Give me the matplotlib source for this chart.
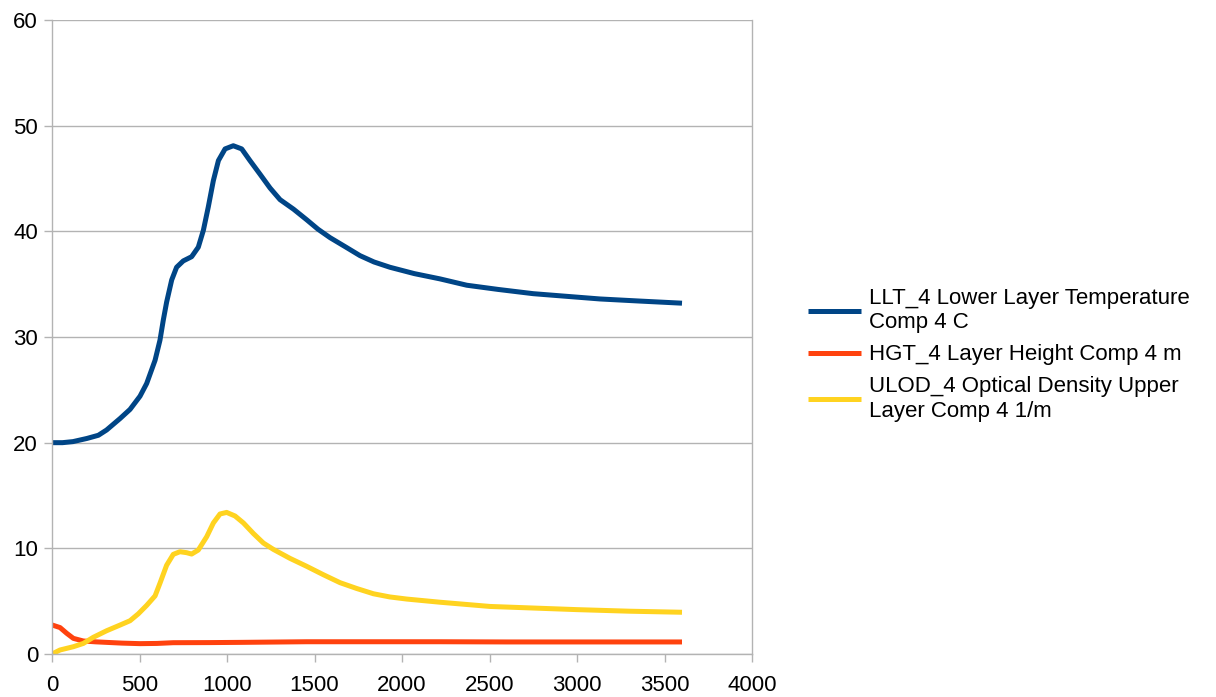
import matplotlib
matplotlib.use("Agg")
import matplotlib.pyplot as plt

llt_time = [0, 60, 120, 200, 265, 312, 390, 446, 503, 541, 589, 617, 636, 655, 684, 712,
            750, 798, 836, 865, 893, 922, 951, 989, 1036, 1084, 1131, 1189, 1246, 1303,
            1380, 1455, 1520, 1589, 1680, 1760, 1840, 1931, 2070, 2217, 2370, 2550, 2750,
            2940, 3131, 3360, 3600]
llt_4 = [20.0, 20.0, 20.1, 20.4, 20.7, 21.2, 22.3, 23.15, 24.4, 25.6, 27.8, 29.7, 31.6,
         33.3, 35.4, 36.6, 37.2, 37.6, 38.5, 40.1, 42.3, 44.8, 46.7, 47.8, 48.1, 47.8,
         46.7, 45.4, 44.1, 43.0, 42.1, 41.1, 40.2, 39.4, 38.5, 37.7, 37.1, 36.6, 36.0,
         35.5, 34.9, 34.5, 34.1, 33.85, 33.6, 33.4, 33.2]

hgt_time = [0, 46, 84, 122, 179, 250, 312, 400, 503, 600, 693, 900, 1074, 1455, 1800,
            2217, 2600, 3000, 3600]
hgt_4 = [2.75, 2.5, 1.96, 1.48, 1.23, 1.15, 1.1, 1.03, 0.98, 1.0, 1.07, 1.08, 1.1, 1.16,
         1.16, 1.16, 1.14, 1.14, 1.14]

ulod_time = [0, 46, 122, 179, 236, 312, 389, 446, 493, 541, 589, 617, 655, 693, 731, 769,
             798, 836, 884, 922, 960, 998, 1046, 1094, 1151, 1208, 1265, 1360, 1455,
             1551, 1646, 1741, 1837, 1930, 2027, 2217, 2360, 2503, 2750, 2998, 3300, 3600]
ulod_4 = [0.0, 0.38, 0.69, 1.0, 1.58, 2.2, 2.74, 3.15, 3.8, 4.6, 5.5, 6.7, 8.4, 9.43,
          9.68, 9.59, 9.46, 9.84, 11.1, 12.4, 13.25, 13.4, 13.06, 12.4, 11.4, 10.5, 9.9,
          9.05, 8.3, 7.5, 6.75, 6.2, 5.7, 5.4, 5.2, 4.9, 4.7, 4.5, 4.35, 4.2, 4.05, 3.95]

labels = ["LLT_4 Lower Layer Temperature\nComp 4 C",
          "HGT_4 Layer Height Comp 4 m",
          "ULOD_4 Optical Density Upper\nLayer Comp 4 1/m"]
colors = ["#004586", "#ff420e", "#ffd320"]

plt.rcParams['font.family'] = ['Liberation Sans', 'DejaVu Sans']

fig = plt.figure(figsize=(12.16, 6.97), dpi=100)
ax = fig.add_axes([52/1216, 1-654/697, 700/1216, 634/697])

for tx, y, lab, c in zip([llt_time, hgt_time, ulod_time], [llt_4, hgt_4, ulod_4],
                         labels, colors):
    ax.plot(tx, y, color=c, lw=3.6, label=lab, solid_joinstyle='round',
            solid_capstyle='butt')

ax.set_xlim(0, 4000)
ax.set_ylim(0, 60)
ax.set_xticks(range(0, 4001, 500))
ax.set_yticks(range(0, 61, 10))
ax.grid(axis='y', color='#b3b3b3', lw=1)
ax.set_axisbelow(True)
for s in ax.spines.values():
    s.set_color('#b3b3b3')
    s.set_linewidth(1)
ax.spines['top'].set_visible(False)
ax.tick_params(axis='both', colors='#b3b3b3', labelcolor='black', labelsize=16,
               length=6, width=1)
ax.tick_params(axis='x', pad=9)
ax.tick_params(axis='y', pad=4)

fig.legend(loc='upper left', bbox_to_anchor=(808/1216, 1-288/697), frameon=False,
           fontsize=16, handlelength=2.4, handletextpad=0.36, labelspacing=0.5,
           borderaxespad=0, borderpad=0)

fig.savefig("out.png", dpi=100)
